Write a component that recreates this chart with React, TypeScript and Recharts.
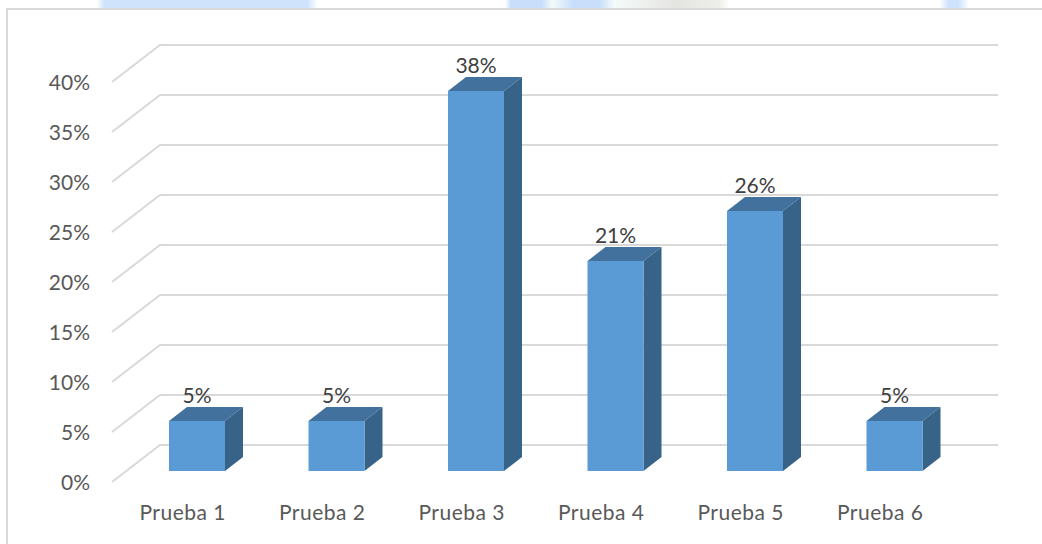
import { BarChart, Bar, XAxis, YAxis, CartesianGrid, LabelList } from "recharts";

const categories = ["Prueba 1", "Prueba 2", "Prueba 3", "Prueba 4", "Prueba 5", "Prueba 6"];
const values = [5, 5, 38, 21, 26, 5];
const yTicks = [0, 5, 10, 15, 20, 25, 30, 35, 40];

const data = categories.map((name, i) => ({ name, value: values[i] }));

const FONT = "Lato, 'Open Sans', sans-serif";

// floor gridline: front stub, then the back wall line
function WallLine(props: any) {
  const { x1, x2, y1 } = props;
  return (
    <path
      key={props.key ?? y1}
      d={`M${x1 - 15} ${y1 + 11} L${x1 + 33} ${y1 - 26} L${x2 + 34} ${y1 - 26}`}
      fill="none"
      stroke="#d9d9d9"
      strokeWidth={2}
    />
  );
}

function Box3D(props: any) {
  const { x, y, width, height } = props;
  const dx = 18;
  const dy = 14;
  return (
    <g>
      <path
        d={`M${x} ${y} L${x + dx} ${y - dy} L${x + width + dx} ${y - dy} L${x + width} ${y} Z`}
        fill="#41719c"
      />
      <path
        d={`M${x + width} ${y} L${x + width + dx} ${y - dy} L${x + width + dx} ${y + height - dy} L${x + width} ${y + height} Z`}
        fill="#386389"
      />
      <rect x={x} y={y} width={width} height={height} fill="#5b9bd5" />
    </g>
  );
}

function YTick({ x, y, payload }: any) {
  return (
    <text x={x + 6} y={y + 12} dy="0.35em" textAnchor="end" fill="#595959" fontSize={21} fontFamily={FONT}>
      {payload.value}%
    </text>
  );
}

function XTick({ x, y, payload }: any) {
  return (
    <text x={x - 14} y={y + 34} dy="0.35em" textAnchor="middle" fill="#595959" fontSize={21} fontFamily={FONT} letterSpacing={0.5}>
      {payload.value}
    </text>
  );
}

export default function App() {
  return (
    <div style={{ position: "absolute", left: 0, top: 0, width: 1042, height: 544, background: "#fff", overflow: "hidden" }}>
      <div
        style={{
          position: "absolute", left: 0, top: 0, width: 1042, height: 8,
          background:
            "linear-gradient(90deg, #fff 9.3%, #cfe4fc 10%, #cfe4fc 29.5%, #fff 30.5%, #fff 48.5%, #c8defb 49%, #c8defb 52%, #f2fbf8 53%, #c8defb 55%, #c8defb 57.5%, #f5fbfa 59%, #e4e4e0 65%, #eeeeea 69%, #fff 70%, #fff 90.2%, #cfe4fc 91%, #cfe4fc 92%, #fff 93%)",
        }}
      />
      <div style={{ position: "absolute", left: 6, top: 8, width: 1100, height: 600, border: "2px solid #d9d9d9", boxSizing: "border-box" }} />
      <div style={{ position: "absolute", left: 0, top: 0 }}>
        <BarChart
          width={1042}
          height={544}
          data={data}
          barCategoryGap={0}
          margin={{ top: 71, right: 78, bottom: 43, left: 0 }}
        >
          <CartesianGrid vertical={false} horizontal={(p: any) => <WallLine {...p} />} />
          <XAxis dataKey="name" height={30} axisLine={false} tickLine={false} interval={0} tick={<XTick />} />
          <YAxis width={127} domain={[0, 40]} ticks={yTicks} axisLine={false} tickLine={false} tickMargin={37} tick={<YTick />} />
          <Bar dataKey="value" barSize={56} shape={<Box3D />} isAnimationActive={false}>
            <LabelList
              dataKey="value"
              position="top"
              offset={18}
              formatter={(v: any) => `${v}%`}
              fill="#404040"
              fontSize={21}
              fontFamily={FONT}
            />
          </Bar>
        </BarChart>
      </div>
    </div>
  );
}
